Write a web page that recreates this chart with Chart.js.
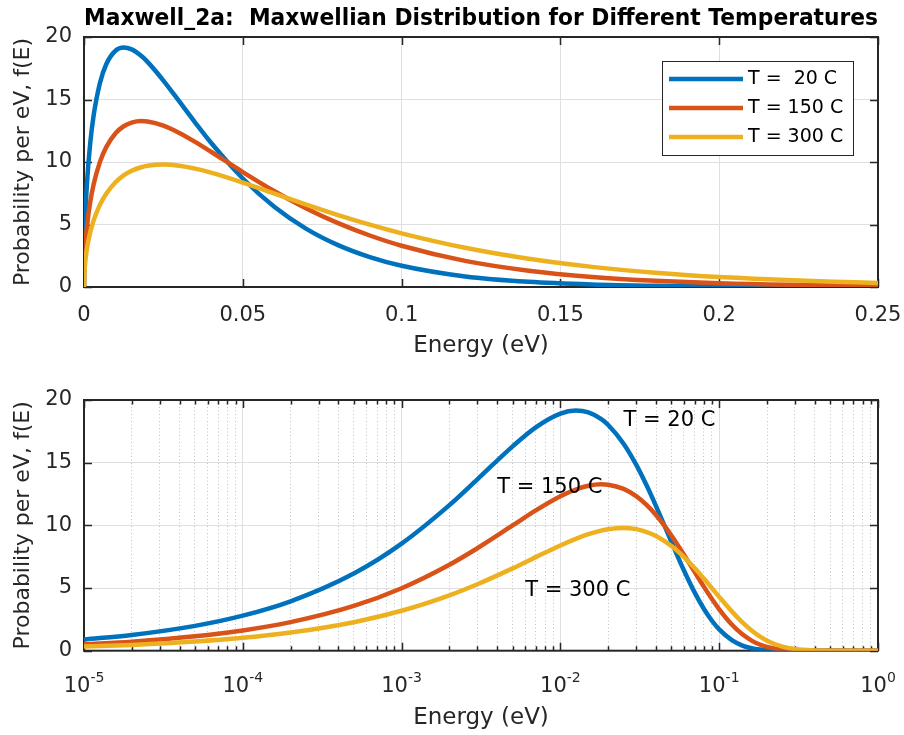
<!DOCTYPE html>
<html>
<head>
<meta charset="utf-8">
<script src="https://cdn.jsdelivr.net/npm/chart.js@4.4.1/dist/chart.umd.min.js"></script>
<style>
  html, body { margin: 0; padding: 0; background: #fff; }
  #wrap { position: relative; width: 904px; height: 735px; overflow: hidden; }
  canvas { position: absolute; left: 0; }
  #chart-top { top: 0; }
  #chart-bottom { top: 368px; }
</style>
</head>
<body>
<div id="wrap">
  <canvas id="chart-top" width="904" height="368"></canvas>
  <canvas id="chart-bottom" width="904" height="367"></canvas>
</div>
<script>
"use strict";

// energy samples (eV) and f(E)
const energy = [1e-5, 2e-5, 5e-5, 1e-4, 2e-4, 5e-4, 0.001, 0.002, 0.003, 0.005, 0.007, 0.01, 0.0125,
  0.015, 0.018, 0.02, 0.025, 0.03, 0.035, 0.04, 0.05, 0.06, 0.07, 0.08, 0.09, 0.1, 0.12, 0.14,
  0.16, 0.18, 0.2, 0.25, 0.3, 0.4, 0.5, 0.7, 1.0];
const f20 = [0.888, 1.256, 1.983, 2.799, 3.943, 6.161, 8.543, 11.612, 13.670, 16.304, 17.823, 18.918, 19.157,
  19.009, 18.491, 18.008, 16.517, 14.845, 13.154, 11.538, 8.683, 6.401, 4.653, 3.349, 2.391, 1.697, 0.842, 0.412,
  0.200, 0.096, 0.046, 0.007, 0.001, 0, 0, 0, 0];
const f150 = [0.512, 0.724, 1.144, 1.616, 2.279, 3.574, 4.986, 6.861, 8.175, 9.991, 11.190, 12.319, 12.860,
  13.155, 13.272, 13.243, 12.909, 12.329, 11.610, 10.822, 9.196, 7.659, 6.287, 5.109, 4.120, 3.301, 2.089, 1.304,
  0.805, 0.494, 0.301, 0.085, 0.024, 0.002, 0, 0, 0];
const f300 = [0.325, 0.460, 0.726, 1.026, 1.448, 2.276, 3.186, 4.415, 5.299, 6.569, 7.464, 8.396, 8.923,
  9.293, 9.579, 9.697, 9.798, 9.700, 9.468, 9.147, 8.353, 7.473, 6.592, 5.755, 4.986, 4.292, 3.136, 2.259,
  1.611, 1.140, 0.801, 0.326, 0.130, 0.020, 0.003, 0, 0];

const seriesLabels = ["T =  20 C", "T = 150 C", "T = 300 C"];
const seriesColors = ["#0072BD", "#D95319", "#EDB120"];

const linTicks = [0, 0.05, 0.1, 0.15, 0.2, 0.25];
const linTickLabels = ["0", "0.05", "0.1", "0.15", "0.2", "0.25"];
const yTicks = [0, 5, 10, 15, 20];
const logDecades = [-5, -4, -3, -2, -1, 0];

const noteText = ["T = 20 C", "T = 150 C", "T = 300 C"];
const noteX = [0.025, 0.004, 0.006];
const noteY = [18.4, 13, 4.8];

const FONT = "'DejaVu Sans', 'Liberation Sans', sans-serif";
const AXIS = "#262626";
const GRID = "#DFDFDF";

const logTicks = [];
logDecades.forEach((d) => {
  for (let m = 1; m <= 9; m += 1) {
    const v = m * Math.pow(10, d);
    if (v <= 1.0000001) logTicks.push(v);
  }
});

function isDecade(v) {
  const l = Math.log10(v);
  return Math.abs(l - Math.round(l)) < 1e-6;
}

function buildDatasets(withZero) {
  const all = [f20, f150, f300];
  return all.map((vals, i) => {
    const pts = energy.map((e, k) => ({ x: e, y: vals[k] }));
    if (withZero) pts.unshift({ x: 0, y: 0 });
    return {
      label: seriesLabels[i],
      data: pts,
      borderColor: seriesColors[i],
      borderWidth: 4.5,
      pointRadius: 0,
      fill: false,
      cubicInterpolationMode: "monotone",
      order: 3 - i
    };
  });
}

// box and inward ticks on all four sides, under the curves
const frame = {
  id: "frame",
  beforeDatasetsDraw(chart) {
    const { ctx, chartArea: a, scales: { x, y } } = chart;
    ctx.save();
    ctx.strokeStyle = AXIS;
    ctx.lineWidth = 1.5;
    ctx.beginPath();
    x.ticks.forEach((t) => {
      const px = Math.round(x.getPixelForValue(t.value)) + 0.5;
      const len = x.type === "logarithmic" && !isDecade(t.value) ? 4.5 : 8;
      ctx.moveTo(px, a.bottom);
      ctx.lineTo(px, a.bottom - len);
      ctx.moveTo(px, a.top);
      ctx.lineTo(px, a.top + len);
    });
    y.ticks.forEach((t) => {
      const py = Math.round(y.getPixelForValue(t.value)) + 0.5;
      ctx.moveTo(a.left, py);
      ctx.lineTo(a.left + 8, py);
      ctx.moveTo(a.right, py);
      ctx.lineTo(a.right - 8, py);
    });
    ctx.stroke();
    ctx.lineWidth = 2;
    ctx.strokeRect(a.left, a.top, a.right - a.left, a.bottom - a.top);
    ctx.restore();
  }
};

const legendBox = {
  id: "legendBox",
  afterDatasetsDraw(chart) {
    const { ctx, chartArea: a } = chart;
    const bx = a.right - 216;
    const by = a.top + 24;
    ctx.save();
    ctx.fillStyle = "#fff";
    ctx.fillRect(bx, by, 191, 94);
    ctx.strokeStyle = AXIS;
    ctx.lineWidth = 1;
    ctx.strokeRect(bx + 0.5, by + 0.5, 191, 94);
    ctx.font = "19px " + FONT;
    ctx.textBaseline = "middle";
    ctx.textAlign = "left";
    chart.data.datasets.forEach((ds, i) => {
      const ry = by + 18 + i * 29;
      ctx.strokeStyle = ds.borderColor;
      ctx.lineWidth = 4.5;
      ctx.beginPath();
      ctx.moveTo(bx + 7, ry);
      ctx.lineTo(bx + 81, ry);
      ctx.stroke();
      ctx.fillStyle = "#000";
      ctx.fillText(ds.label, bx + 86, ry);
    });
    ctx.restore();
  }
};

const notes = {
  id: "notes",
  afterDatasetsDraw(chart) {
    const { ctx, scales: { x, y } } = chart;
    ctx.save();
    ctx.font = "21px " + FONT;
    ctx.fillStyle = "#000";
    ctx.textAlign = "left";
    ctx.textBaseline = "middle";
    noteText.forEach((t, i) => {
      ctx.fillText(t, x.getPixelForValue(noteX[i]), y.getPixelForValue(noteY[i]));
    });
    ctx.restore();
  }
};

// 10^n labels with a raised exponent
const logLabels = {
  id: "logLabels",
  afterDraw(chart) {
    const { ctx, chartArea: a, scales: { x } } = chart;
    ctx.save();
    ctx.fillStyle = AXIS;
    ctx.textBaseline = "alphabetic";
    ctx.textAlign = "left";
    logDecades.forEach((d) => {
      const px = x.getPixelForValue(Math.pow(10, d));
      const exp = String(d);
      ctx.font = "21px " + FONT;
      const w1 = ctx.measureText("10").width;
      ctx.font = "14px " + FONT;
      const w2 = ctx.measureText(exp).width;
      const left = px - (w1 + w2) / 2;
      ctx.font = "21px " + FONT;
      ctx.fillText("10", left, a.bottom + 41);
      ctx.font = "14px " + FONT;
      ctx.fillText(exp, left + w1, a.bottom + 31);
    });
    ctx.restore();
  }
};

function yScale() {
  return {
    type: "linear",
    min: 0,
    max: 20,
    afterBuildTicks: (s) => { s.ticks = yTicks.map((v) => ({ value: v })); },
    afterFit: (s) => { s.width = 84; },
    grid: { color: GRID, lineWidth: 1, drawTicks: false },
    border: { display: false },
    ticks: {
      padding: 12,
      color: AXIS,
      font: { family: FONT, size: 21 }
    },
    title: {
      display: true,
      text: "Probability per eV, f(E)",
      color: AXIS,
      font: { family: FONT, size: 22 },
      padding: { top: 10, bottom: 0 }
    }
  };
}

const common = {
  responsive: false,
  animation: false,
  events: [],
  plugins: {
    legend: { display: false },
    tooltip: { enabled: false }
  }
};

new Chart(document.getElementById("chart-top"), {
  type: "line",
  data: { datasets: buildDatasets(true) },
  options: {
    ...common,
    layout: { padding: { left: 0, right: 26, top: 0, bottom: 0 } },
    plugins: {
      ...common.plugins,
      title: {
        display: true,
        fullSize: false,
        text: "Maxwell_2a:  Maxwellian Distribution for Different Temperatures",
        color: "#000",
        font: { family: FONT, size: 22.5, weight: "bold", lineHeight: 1.2 },
        padding: { top: 6, bottom: 4 }
      }
    },
    scales: {
      x: {
        type: "linear",
        min: 0,
        max: 0.25,
        afterBuildTicks: (s) => { s.ticks = linTicks.map((v) => ({ value: v })); },
        afterFit: (s) => {
          s.height = 81;
          s.paddingLeft = 0;
          s.paddingRight = 0;
        },
        grid: { color: GRID, lineWidth: 1, drawTicks: false },
        border: { display: false },
        ticks: {
          padding: 16,
          color: AXIS,
          font: { family: FONT, size: 21 },
          maxRotation: 0,
          callback: (v, i) => linTickLabels[i]
        },
        title: {
          display: true,
          text: "Energy (eV)",
          color: AXIS,
          font: { family: FONT, size: 23 },
          padding: { top: 0, bottom: 8 }
        }
      },
      y: yScale()
    }
  },
  plugins: [frame, legendBox]
});

new Chart(document.getElementById("chart-bottom"), {
  type: "line",
  data: { datasets: buildDatasets(false) },
  options: {
    ...common,
    layout: { padding: { left: 0, right: 26, top: 32, bottom: 0 } },
    scales: {
      x: {
        type: "logarithmic",
        min: 1e-5,
        max: 1,
        afterBuildTicks: (s) => { s.ticks = logTicks.map((v) => ({ value: v })); },
        afterFit: (s) => { s.height = 84.3; },
        grid: {
          color: (c) => (c.tick && !isDecade(c.tick.value) ? "rgba(38,38,38,0.28)" : GRID),
          lineWidth: 1,
          drawTicks: false
        },
        border: {
          display: false,
          dash: (c) => (c.tick && !isDecade(c.tick.value) ? [1, 2.5] : [])
        },
        ticks: { display: false },
        title: {
          display: true,
          text: "Energy (eV)",
          color: AXIS,
          font: { family: FONT, size: 23 },
          padding: { top: 0, bottom: 3 }
        }
      },
      y: yScale()
    }
  },
  plugins: [frame, notes, logLabels]
});
</script>
</body>
</html>
